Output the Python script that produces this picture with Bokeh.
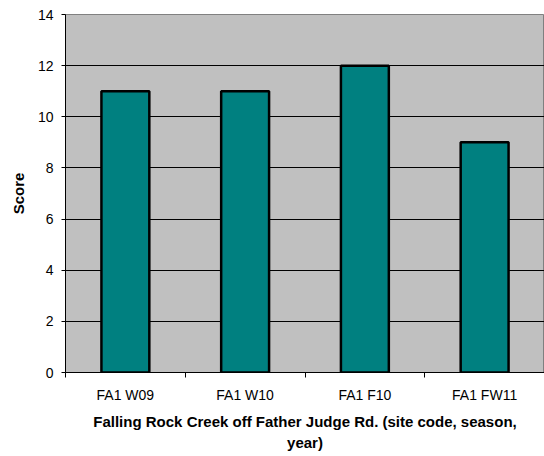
from bokeh.plotting import figure
from bokeh.models import Range1d, LinearAxis, FixedTicker
from bokeh.embed import file_html
from bokeh.resources import INLINE

categories = ["FA1 W09", "FA1 W10", "FA1 F10", "FA1 FW11"]
scores = [11, 11, 12, 9]
y_ticks = [0, 2, 4, 6, 8, 10, 12, 14]
x_title = "Falling Rock Creek off Father Judge Rd. (site code, season,\nyear)"
y_title = "Score"

FONT = "Liberation Sans"

n = len(categories)
centers = [i + 0.5 for i in range(n)]
edges = list(range(n + 1))

p = figure(width=544, height=456, output_backend="svg", toolbar_location=None,
           x_range=Range1d(0, n), y_range=Range1d(0, 14), x_axis_location=None,
           min_border_left=65, min_border_top=14, min_border_right=0, min_border_bottom=84)

p.background_fill_color = "#C0C0C0"
p.border_fill_color = "white"
p.outline_line_color = "#808080"
p.outline_line_width = 1

p.vbar(x=centers, top=scores, width=0.4, fill_color="#008080",
       line_color="black", line_width=2.5)

# edge-tick axis (ticks between categories), no labels
tick_axis = LinearAxis(ticker=FixedTicker(ticks=edges),
                       major_label_overrides={e: "" for e in edges},
                       major_label_text_font_size="1px", major_label_standoff=0,
                       major_tick_in=0, major_tick_out=5,
                       minor_tick_line_color=None, axis_line_color="black",
                       major_tick_line_color="black")
p.add_layout(tick_axis, "below")

cat_axis = LinearAxis(ticker=FixedTicker(ticks=centers),
                      major_label_overrides={c: lab for c, lab in zip(centers, categories)},
                      axis_line_color=None, major_tick_line_color=None,
                      minor_tick_line_color=None,
                      major_label_standoff=3,
                      major_label_text_font=FONT,
                      major_label_text_font_size="14px",
                      major_label_text_color="black",
                      axis_label=x_title,
                      axis_label_text_font=FONT,
                      axis_label_text_font_size="15px",
                      axis_label_text_font_style="bold",
                      axis_label_text_color="black",
                      axis_label_text_line_height=1.25,
                      axis_label_standoff=7)
p.add_layout(cat_axis, "below")

ya = p.yaxis[0]
ya.ticker = FixedTicker(ticks=y_ticks)
ya.major_tick_in = 0
ya.major_tick_out = 4
ya.minor_tick_line_color = None
ya.axis_line_color = "black"
ya.major_tick_line_color = "black"
ya.major_label_text_font = FONT
ya.major_label_text_font_size = "14px"
ya.major_label_text_color = "black"
ya.major_label_standoff = 8
ya.axis_label = y_title
ya.axis_label_text_font = FONT
ya.axis_label_text_font_size = "15px"
ya.axis_label_text_font_style = "bold"
ya.axis_label_text_color = "black"
ya.axis_label_standoff = 8

for g in p.grid:
    if g.dimension == 0:
        g.visible = False
    else:
        g.grid_line_color = "black"
        g.grid_line_width = 1
        g.grid_line_alpha = 1.0

open("out.html", "w").write(file_html(p, INLINE))
